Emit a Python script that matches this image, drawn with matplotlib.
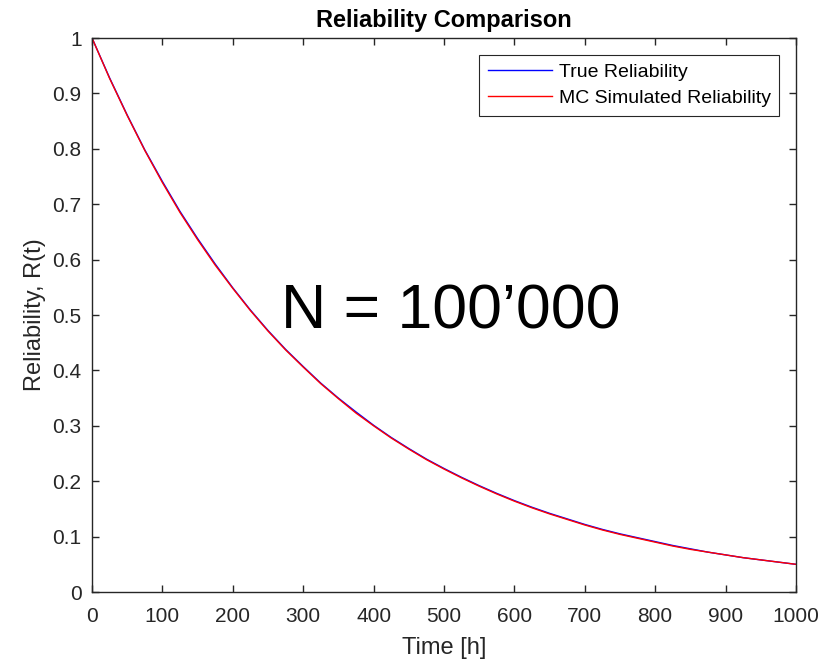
import numpy as np
import matplotlib
matplotlib.use("Agg")
import matplotlib.pyplot as plt

# Data (time in hours, reliability)
t_hours = [0, 25, 50, 75, 100, 125, 150, 175, 200, 225, 250, 275, 300, 325,
           350, 375, 400, 425, 450, 475, 500, 525, 550, 575, 600, 625, 650,
           675, 700, 725, 750, 775, 800, 825, 850, 875, 900, 925, 950, 975, 1000]
r_true = [1.000, 0.928, 0.861, 0.798, 0.741, 0.687, 0.638, 0.592, 0.549,
          0.509, 0.472, 0.438, 0.407, 0.377, 0.350, 0.325, 0.301, 0.279,
          0.259, 0.240, 0.223, 0.207, 0.192, 0.178, 0.165, 0.153, 0.142,
          0.132, 0.122, 0.113, 0.105, 0.098, 0.091, 0.084, 0.078, 0.072,
          0.067, 0.062, 0.058, 0.054, 0.050]
r_mc = [1.000, 0.927, 0.860, 0.797, 0.739, 0.685, 0.636, 0.590, 0.548,
        0.508, 0.471, 0.437, 0.406, 0.376, 0.349, 0.323, 0.300, 0.278,
        0.258, 0.239, 0.222, 0.206, 0.191, 0.177, 0.164, 0.152, 0.141,
        0.131, 0.121, 0.112, 0.104, 0.097, 0.090, 0.083, 0.077, 0.072,
        0.067, 0.062, 0.058, 0.054, 0.050]

x_ticks = [0, 100, 200, 300, 400, 500, 600, 700, 800, 900, 1000]
y_ticks = [0, 0.1, 0.2, 0.3, 0.4, 0.5, 0.6, 0.7, 0.8, 0.9, 1]
y_tick_labels = ["0", "0.1", "0.2", "0.3", "0.4", "0.5", "0.6", "0.7", "0.8", "0.9", "1"]

plt.rcParams['font.family'] = ['Liberation Sans', 'DejaVu Sans']
dark = "#262626"

fig = plt.figure(figsize=(8.32, 6.6), dpi=100)
ax = fig.add_axes([0.1106, 0.103, 0.8461, 0.8394])

ax.plot(t_hours, r_true, color="#0000ff", lw=1.0, label="True Reliability")
ax.plot(t_hours, r_mc, color="#ff0000", lw=1.0, label="MC Simulated Reliability")

ax.set_xlim(0, 1000)
ax.set_ylim(0, 1)
ax.set_xticks(x_ticks)
ax.set_yticks(y_ticks)
ax.set_yticklabels(y_tick_labels)

ax.tick_params(direction='in', top=True, right=True, length=5, width=1,
               labelsize=15, colors=dark)
ax.tick_params(axis='x', pad=10.5)
ax.tick_params(axis='y', pad=7.5)
for sp in ax.spines.values():
    sp.set_color(dark)
    sp.set_linewidth(1.0)

ax.set_xlabel("Time [h]", fontsize=17, color=dark, labelpad=8)
ax.set_ylabel("Reliability, R(t)", fontsize=17, color=dark, labelpad=5)
ax.set_title("Reliability Comparison", fontsize=17, fontweight='bold', pad=8)

leg = ax.legend(loc='upper right', fontsize=14, fancybox=False, framealpha=1,
                edgecolor=dark, borderaxespad=0.85, handlelength=3.3,
                handletextpad=0.35, borderpad=0.45, labelspacing=0.45)
leg.get_frame().set_linewidth(0.8)

ax.text(268, 0.4765, "N = 100\u2019000", fontsize=45, ha='left', va='baseline',
        color='black')

fig.savefig("out.png", dpi=100)
